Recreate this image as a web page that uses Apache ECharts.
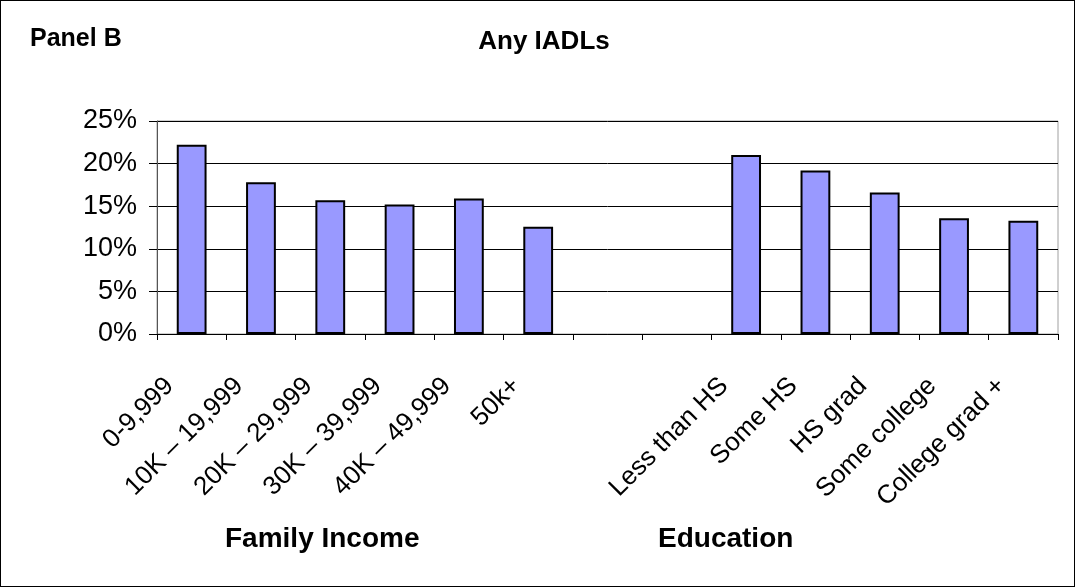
<!DOCTYPE html>
<html>
<head>
<meta charset="utf-8">
<script src="https://cdn.jsdelivr.net/npm/echarts@6/dist/echarts.min.js"></script>
<style>
  html, body { margin: 0; padding: 0; background: #fff; }
  #main { width: 1073px; height: 585px; border: 1px solid #000; }
</style>
</head>
<body>
<div id="main"></div>
<script>
  // categories: income groups, two empty slots, education groups
  var categories = ['0-9,999', '10K – 19,999', '20K – 29,999', '30K – 39,999', '40K – 49,999', '50k+',
    '', '',
    'Less than HS', 'Some HS', 'HS grad', 'Some college', 'College grad +'];
  // share with any IADLs, percent
  var values = [22.2, 17.8, 15.7, 15.2, 15.9, 12.6,
    null, null,
    21.0, 19.2, 16.6, 13.6, 13.3];
  var yTicks = [0, 5, 10, 15, 20, 25];

  var font = 'Liberation Sans, Arial, sans-serif';
  var myChart = echarts.init(document.getElementById('main'));

  var option = {
    animation: false,
    textStyle: { fontFamily: font },
    title: [
      {
        text: 'Panel B',
        left: 24, top: 21,
        textStyle: { fontSize: 25, fontWeight: 'bold', color: '#000', fontFamily: font }
      },
      {
        text: 'Any IADLs',
        left: 538, top: 23, textAlign: 'center',
        textStyle: { fontSize: 26, fontWeight: 'bold', color: '#000', fontFamily: font }
      }
    ],
    grid: {
      left: 156, right: 16, top: 120, bottom: 252,
      show: true,
      borderColor: '#a0a0a0',
      borderWidth: 1,
      backgroundColor: '#fff'
    },
    graphic: [
      {
        type: 'text', left: 224, top: 524,
        style: { text: 'Family Income', font: 'bold 28px ' + font, fill: '#000' }
      },
      {
        type: 'text', left: 657, top: 524,
        style: { text: 'Education', font: 'bold 28px ' + font, fill: '#000' }
      }
    ],
    xAxis: {
      type: 'category',
      data: categories,
      boundaryGap: true,
      axisLine: { show: true, lineStyle: { color: '#000', width: 1 } },
      axisTick: { show: true, interval: 0, alignWithLabel: false, length: 6, lineStyle: { color: '#000' } },
      axisLabel: {
        interval: 0,
        rotate: 45,
        margin: 26,
        padding: [0, 31, 0, 0],
        fontSize: 26,
        color: '#000',
        fontFamily: font
      },
      splitLine: { show: false }
    },
    yAxis: {
      type: 'value',
      min: yTicks[0],
      max: yTicks[yTicks.length - 1],
      interval: 5,
      axisLine: { show: true, lineStyle: { color: '#555', width: 1 } },
      axisTick: { show: true, length: 8, lineStyle: { color: '#000' } },
      axisLabel: {
        formatter: '{value}%',
        fontSize: 27,
        color: '#000',
        margin: 20,
        fontFamily: font
      },
      splitLine: { show: true, lineStyle: { color: '#000', width: 1 } }
    },
    series: [
      {
        type: 'bar',
        data: values,
        barWidth: '43%',
        itemStyle: {
          color: '#9999ff',
          borderColor: '#000',
          borderWidth: 2
        }
      }
    ]
  };
  myChart.setOption(option);
</script>
</body>
</html>
